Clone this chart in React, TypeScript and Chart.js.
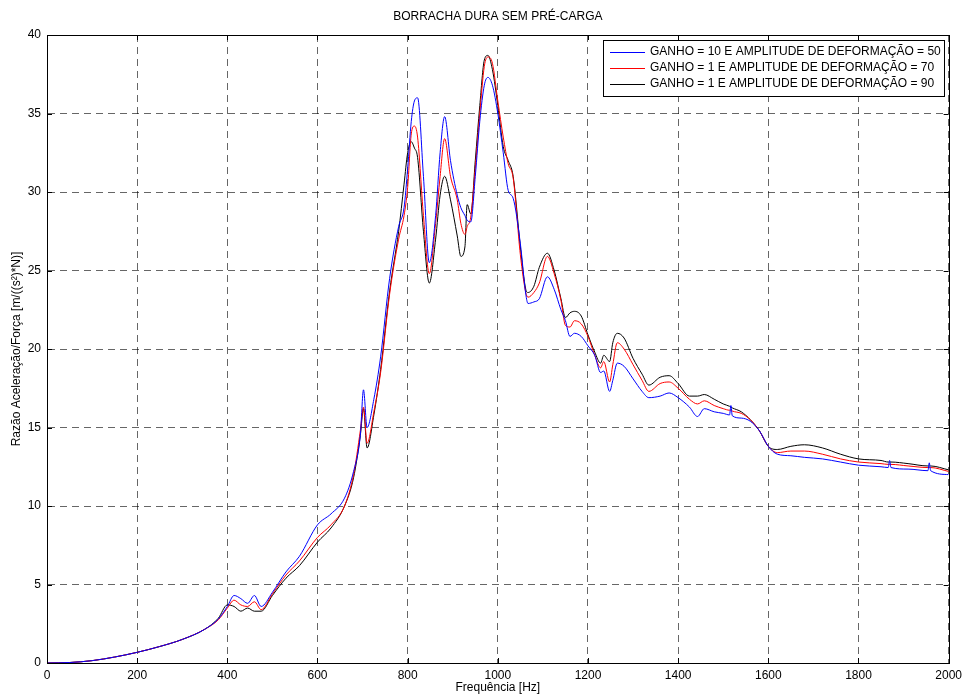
import React, { useEffect, useRef } from "react";
import { Chart, registerables } from "chart.js";

Chart.register(...registerables);

const TITLE = "BORRACHA DURA SEM PRÉ-CARGA";
const X_TITLE = "Frequência [Hz]";
const Y_TITLE = "Razão Aceleração/Força [m/((s²)*N)]";
const SERIES_LABELS = [
  "GANHO = 10 E AMPLITUDE DE DEFORMAÇÃO = 50",
  "GANHO = 1 E AMPLITUDE DE DEFORMAÇÃO = 70",
  "GANHO = 1 E AMPLITUDE DE DEFORMAÇÃO = 90",
];
const SERIES_COLORS = ["#0000ff", "#ff0000", "#000000"];
const X_TICKS = [0, 200, 400, 600, 800, 1000, 1200, 1400, 1600, 1800, 2000];
const Y_TICKS = [0, 5, 10, 15, 20, 25, 30, 35, 40];

const FREQ = [
  0, 50, 100, 150, 200, 250, 300, 350, 380, 400,
  415, 430, 445, 460, 475, 500, 530, 560, 600, 630,
  660, 680, 695, 702, 710, 725, 740, 760, 780, 792,
  800, 808, 815, 822, 835, 848, 862, 872, 882, 895,
  910, 918, 927, 932, 940, 950, 960, 970, 978, 988,
  1000, 1012, 1023, 1034, 1050, 1062, 1067, 1080, 1092, 1110,
  1125, 1140, 1150, 1160, 1170, 1185, 1200, 1215, 1228, 1235,
  1248, 1255, 1265, 1280, 1300, 1320, 1335, 1360, 1380, 1400,
  1425, 1443, 1458, 1480, 1500, 1514, 1517, 1520, 1540, 1560, 1580, 1600,
  1620, 1650, 1680, 1720, 1760, 1800, 1850, 1866, 1869, 1872, 1910, 1954, 1957, 1960, 2000,
];

const BLUE = [
  0, 0.03, 0.15, 0.38, 0.68, 1.05, 1.5, 2.15, 2.8, 3.6,
  4.3, 4.1, 3.8, 4.3, 3.6, 4.5, 5.8, 6.8, 8.8, 9.5,
  10.5, 12.2, 14.5, 17.4, 15.0, 16.8, 19.5, 24.5, 27.8, 29.0,
  31.5, 34.5, 35.8, 36.0, 31.0, 25.5, 28.5, 32.5, 34.8, 32.0,
  29.8, 29.0, 28.5, 28.2, 28.1, 31.0, 34.5, 36.8, 37.3, 36.8,
  35.0, 32.5, 30.1, 29.6, 26.7, 23.5, 22.9, 23.0, 23.2, 24.6,
  23.8, 22.5, 21.8, 20.8, 21.0, 20.8, 20.2, 19.6, 18.5, 18.6,
  17.3, 18.0, 19.1, 18.9, 18.1, 17.3, 16.9, 17.0, 17.2, 16.9,
  16.3, 15.7, 16.2, 16.0, 15.9, 15.8, 16.4, 15.75, 15.6, 15.4, 14.8, 13.8,
  13.3, 13.2, 13.1, 13.0, 12.8, 12.6, 12.5, 12.45, 12.9, 12.45, 12.35, 12.25, 12.75, 12.25, 12.0,
];

const RED = [
  0, 0.03, 0.15, 0.38, 0.68, 1.05, 1.5, 2.15, 2.75, 3.5,
  4.0, 3.7, 3.6, 3.9, 3.4, 4.4, 5.6, 6.5, 8.0, 8.8,
  10.0, 12.0, 14.8, 16.3, 14.0, 16.0, 18.5, 23.5, 27.0, 28.5,
  30.3, 33.7, 34.2, 33.5, 28.5, 24.8, 28.0, 31.0, 33.4, 31.0,
  29.5, 28.0, 27.3, 27.8, 28.4, 31.5, 35.0, 38.0, 38.6, 38.2,
  35.8, 33.5, 31.8, 30.9, 26.0, 23.6, 23.3, 23.6, 24.2, 25.9,
  24.8, 23.1, 21.5, 21.4, 21.8, 21.6, 20.8, 19.6, 18.8, 19.2,
  17.9, 19.0, 20.4, 20.0, 19.0, 18.0, 17.3, 17.8, 17.9, 17.5,
  16.8, 16.5, 16.7, 16.4, 16.2, 16.1, 16.1, 16.05, 15.9, 15.5, 14.8, 13.8,
  13.4, 13.5, 13.5, 13.3, 13.0, 12.8, 12.7, 12.65, 12.65, 12.65, 12.55, 12.45, 12.45, 12.45, 12.2,
];

const BLACK = [
  0, 0.03, 0.15, 0.38, 0.68, 1.05, 1.5, 2.15, 2.85, 3.7,
  3.6, 3.3, 3.5, 3.3, 3.3, 4.3, 5.4, 6.2, 7.7, 8.6,
  10.0, 11.8, 14.5, 16.2, 13.7, 15.8, 18.7, 23.7, 27.5, 30.5,
  32.5, 33.2, 32.8, 32.2, 27.5, 24.2, 27.0, 29.8, 31.0, 29.5,
  27.2, 25.9, 26.5, 29.2, 28.6, 32.0, 35.5, 38.4, 38.7, 37.8,
  35.5, 32.9, 32.0, 31.0, 26.5, 23.8, 23.6, 24.0, 25.2, 26.1,
  25.0, 23.2, 22.0, 22.3, 22.4, 22.1, 20.9, 19.8, 19.1, 19.6,
  19.2, 20.4, 21.0, 20.7, 19.4, 18.4, 17.7, 18.2, 18.3, 17.8,
  17.0, 17.0, 17.1, 16.8, 16.5, 16.35, 16.3, 16.25, 16.0, 15.5, 14.8, 13.8,
  13.6, 13.8, 13.9, 13.7, 13.3, 13.0, 12.9, 12.8, 12.8, 12.8, 12.7, 12.55, 12.55, 12.55, 12.3,
];

const SERIES = [BLUE, RED, BLACK];
const FONT_FAMILY = '"Liberation Sans", Arial, Helvetica, sans-serif';
const FONT_SIZE = 12;

const framePlugin = {
  id: "matlabFrame",
  afterDatasetsDraw(chart: any) {
    const { ctx, chartArea, scales } = chart;
    const { left, right, top, bottom } = chartArea;
    ctx.save();
    ctx.strokeStyle = "#000";
    ctx.lineWidth = 1;
    ctx.strokeRect(Math.round(left) + 0.5, Math.round(top) + 0.5, Math.round(right - left), Math.round(bottom - top));
    const tl = 5;
    ctx.beginPath();
    X_TICKS.forEach((v) => {
      const px = Math.round(scales.x.getPixelForValue(v)) + 0.5;
      ctx.moveTo(px, bottom);
      ctx.lineTo(px, bottom - tl);
      ctx.moveTo(px, top);
      ctx.lineTo(px, top + tl);
    });
    Y_TICKS.forEach((v) => {
      const py = Math.round(scales.y.getPixelForValue(v)) + 0.5;
      ctx.moveTo(left, py);
      ctx.lineTo(left + tl, py);
      ctx.moveTo(right, py);
      ctx.lineTo(right - tl, py);
    });
    ctx.stroke();
    ctx.restore();
  },
};

const titlePlugin = {
  id: "axesTitle",
  afterDraw(chart: any) {
    const { ctx, chartArea } = chart;
    ctx.save();
    ctx.font = `${FONT_SIZE}px ${FONT_FAMILY}`;
    ctx.fillStyle = "#000";
    ctx.textAlign = "center";
    ctx.textBaseline = "middle";
    ctx.fillText(TITLE, (chartArea.left + chartArea.right) / 2, 17);
    ctx.restore();
  },
};

const legendPlugin = {
  id: "insideLegend",
  afterDraw(chart: any) {
    const { ctx, chartArea } = chart;
    const w = 341;
    const h = 56;
    const x0 = Math.round(chartArea.right) - 346;
    const y0 = Math.round(chartArea.top) + 5;
    ctx.save();
    ctx.fillStyle = "#fff";
    ctx.fillRect(x0, y0, w, h);
    ctx.strokeStyle = "#000";
    ctx.lineWidth = 1;
    ctx.strokeRect(x0 + 0.5, y0 + 0.5, w, h);
    ctx.font = `${FONT_SIZE}px ${FONT_FAMILY}`;
    ctx.textBaseline = "middle";
    ctx.textAlign = "left";
    chart.data.datasets.forEach((ds: any, i: number) => {
      const y = y0 + 12 + i * 16;
      ctx.strokeStyle = ds.borderColor;
      ctx.beginPath();
      ctx.moveTo(x0 + 7, y + 0.5);
      ctx.lineTo(x0 + 42, y + 0.5);
      ctx.stroke();
      ctx.fillStyle = "#000";
      ctx.fillText(ds.label, x0 + 47, y);
    });
    ctx.restore();
  },
};

export default function App() {
  const canvasRef = useRef<HTMLCanvasElement | null>(null);

  useEffect(() => {
    if (!canvasRef.current) return;
    Chart.defaults.font.family = FONT_FAMILY;
    Chart.defaults.font.size = FONT_SIZE;
    const chart = new Chart(canvasRef.current, {
      type: "line",
      data: {
        datasets: SERIES.map((vals, i) => ({
          label: SERIES_LABELS[i],
          data: FREQ.map((f, j) => ({ x: f, y: vals[j] })),
          borderColor: SERIES_COLORS[i],
          backgroundColor: SERIES_COLORS[i],
          borderWidth: 1,
          pointRadius: 0,
          fill: false,
          cubicInterpolationMode: "monotone" as const,
        })),
      },
      options: {
        responsive: false,
        animation: false,
        layout: { padding: { left: 0, right: 15, top: 35, bottom: 0 } },
        plugins: {
          legend: { display: false },
          tooltip: { enabled: false },
          title: { display: false },
        },
        scales: {
          x: {
            type: "linear",
            min: 0,
            max: 2000,
            afterFit: (s: any) => {
              s.height = 34;
            },
            afterBuildTicks: (s: any) => {
              s.ticks = X_TICKS.map((v) => ({ value: v }));
            },
            ticks: {
              color: "#000",
              font: { size: FONT_SIZE },
              padding: 5,
              maxRotation: 0,
              callback: (v: any) => String(v),
            },
            grid: { color: "rgba(0,0,0,0.6)", lineWidth: 1, drawTicks: false },
            border: { display: true, color: "#000", width: 1, dash: [7, 5] },
            title: {
              display: true,
              text: X_TITLE,
              color: "#000",
              font: { size: FONT_SIZE },
              padding: { top: 0, bottom: 2 },
            },
          },
          y: {
            type: "linear",
            min: 0,
            max: 40,
            afterFit: (s: any) => {
              s.width = 47;
            },
            afterBuildTicks: (s: any) => {
              s.ticks = Y_TICKS.map((v) => ({ value: v }));
            },
            ticks: {
              color: "#000",
              font: { size: FONT_SIZE },
              padding: 6,
              callback: (v: any) => String(v),
            },
            grid: { color: "rgba(0,0,0,0.6)", lineWidth: 1, drawTicks: false },
            border: { display: true, color: "#000", width: 1, dash: [7, 5] },
            title: {
              display: true,
              text: Y_TITLE,
              color: "#000",
              font: { size: FONT_SIZE },
              padding: { top: 9, bottom: 0 },
            },
          },
        },
      },
      plugins: [framePlugin, titlePlugin, legendPlugin],
    });
    return () => chart.destroy();
  }, []);

  return (
    <div style={{ position: "fixed", left: 0, top: 0, width: 967, height: 697, background: "#fff" }}>
      <canvas ref={canvasRef} width={967} height={697} style={{ display: "block" }} />
    </div>
  );
}
